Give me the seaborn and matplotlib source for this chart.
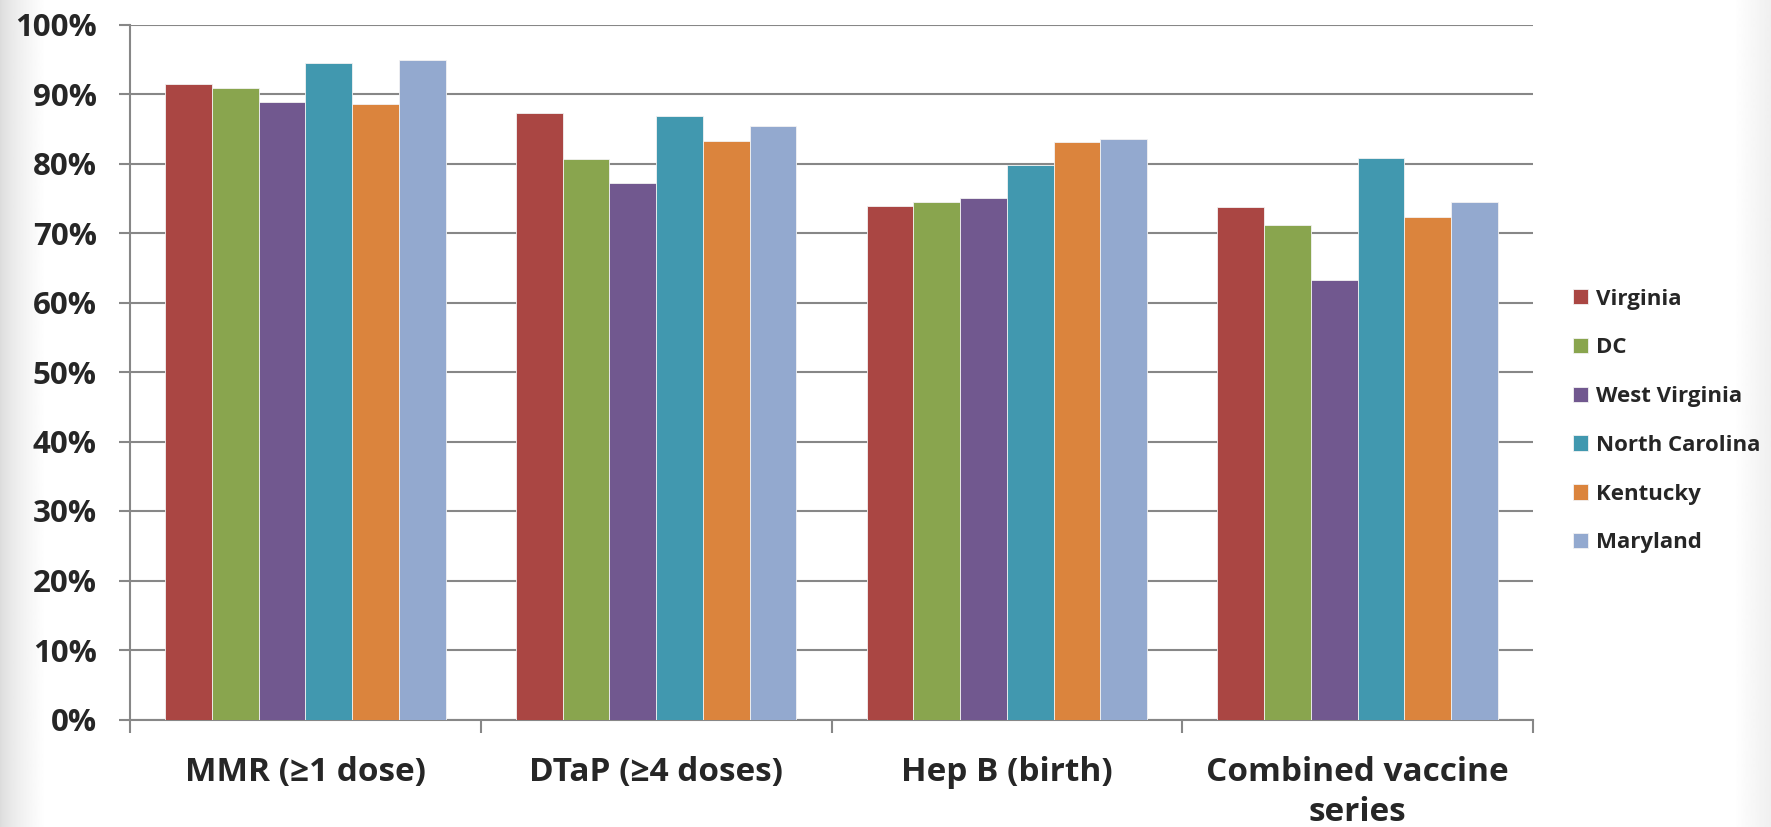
import numpy as np
import pandas as pd
import matplotlib
matplotlib.use('Agg')
import matplotlib.pyplot as plt
import seaborn as sns
from matplotlib.ticker import FuncFormatter, FixedLocator

# Data (percent of children vaccinated)
vaccines = ['MMR (≥1 dose)', 'DTaP (≥4 doses)', 'Hep B (birth)', 'Combined vaccine\nseries']
states = ['Virginia', 'DC', 'West Virginia', 'North Carolina', 'Kentucky', 'Maryland']
virginia = [91.5, 87.2, 73.9, 73.7]
dc = [90.9, 80.6, 74.4, 71.1]
west_virginia = [88.9, 77.2, 75.0, 63.3]
north_carolina = [94.4, 86.9, 79.8, 80.8]
kentucky = [88.6, 83.2, 83.1, 72.3]
maryland = [94.9, 85.4, 83.5, 74.4]

colors = ['#AA4643', '#89A54E', '#71588F', '#4198AF', '#DB843D', '#93A9CF']

series = [virginia, dc, west_virginia, north_carolina, kentucky, maryland]
rows = []
for state, vals in zip(states, series):
    for vac, v in zip(vaccines, vals):
        rows.append({'vaccine': vac, 'state': state, 'value': v})
df = pd.DataFrame(rows)

sns.set_style('white')
plt.rcParams['font.family'] = ['Open Sans', 'DejaVu Sans']
plt.rcParams['font.weight'] = 'bold'

fig = plt.figure(figsize=(17.71, 8.27), dpi=100)

# slide background: soft grey fade at the left and right edges
bg = fig.add_axes([0, 0, 1, 1])
xs = np.linspace(0, 1771, 1771)
shade = np.ones_like(xs)
left = xs < 45
shade[left] = 0.86 + 0.14 * (xs[left] / 45) ** 0.7
right = xs > 1735
shade[right] = 1 - 0.06 * ((xs[right] - 1735) / 36)
bg.imshow(shade[np.newaxis, :], aspect='auto', cmap='gray', vmin=0, vmax=1,
          extent=[0, 1, 0, 1], transform=bg.transAxes)
bg.set_axis_off()

ax = fig.add_axes([130 / 1771, 1 - 719.5 / 827, (1533 - 130) / 1771, (719.5 - 24.5) / 827])
ax.set_facecolor('none')

sns.barplot(data=df, x='vaccine', y='value', hue='state', hue_order=states,
            order=vaccines, palette=colors, saturation=1, width=0.8,
            edgecolor='#f2f2f2', linewidth=0.6, ax=ax, zorder=3)

ax.set_ylim(0, 100)
ax.set_xlim(-0.5, 3.5)
ax.set_yticks(np.arange(0, 101, 10))
ax.yaxis.set_major_formatter(FuncFormatter(lambda v, p: '%d%%' % v))
ax.yaxis.grid(True, color='#878787', linewidth=1.5, zorder=0)
ax.set_axisbelow(True)

for s in ['top', 'right']:
    ax.spines[s].set_visible(False)
for s in ['left', 'bottom']:
    ax.spines[s].set_color('#878787')
    ax.spines[s].set_linewidth(1.5)

ax.tick_params(axis='y', direction='out', length=8, width=1.5, color='#878787',
               labelsize=22.5, pad=16, left=True)
ax.tick_params(axis='x', which='major', length=0, labelsize=24, pad=26)
ax.xaxis.set_minor_locator(FixedLocator([-0.5, 0.5, 1.5, 2.5, 3.5]))
ax.tick_params(axis='x', which='minor', direction='out', length=9, width=1.5,
               color='#878787', bottom=True)
for lab in ax.get_xticklabels():
    lab.set_fontweight('bold')
    lab.set_linespacing(1.3)
    lab.set_verticalalignment('top')
for lab in ax.get_yticklabels():
    lab.set_fontweight('bold')

ax.set_xlabel('')
ax.set_ylabel('')

handles, labels = ax.get_legend_handles_labels()
ax.get_legend().remove()
fig.legend(handles, labels, loc='center left', bbox_to_anchor=(1573 / 1771, 1 - 421 / 827),
           frameon=False, prop={'weight': 'bold', 'size': 16},
           handlelength=0.68, handleheight=0.68, handletextpad=0.35,
           labelspacing=1.25, borderpad=0, borderaxespad=0)

fig.savefig('out.png', dpi=100)
